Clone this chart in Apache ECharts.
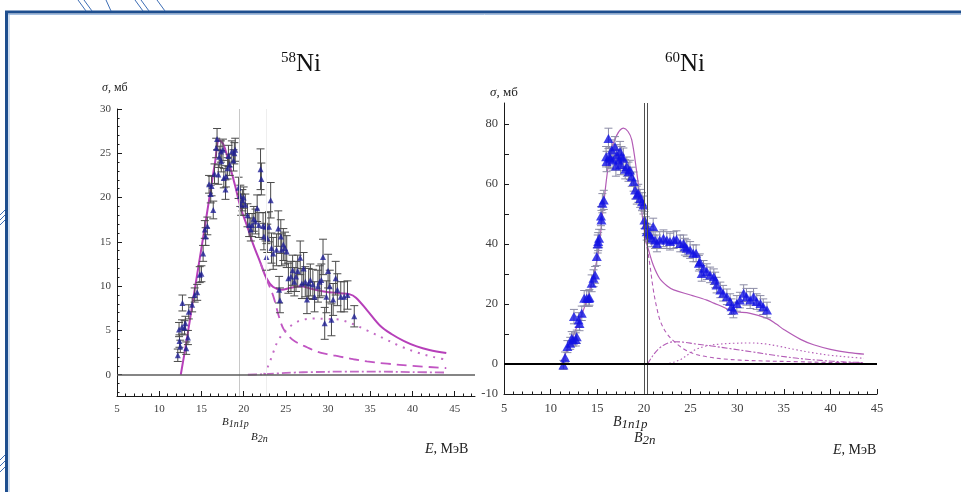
<!DOCTYPE html>
<html>
<head>
<meta charset="utf-8">
<script src="https://cdn.jsdelivr.net/npm/echarts@6/dist/echarts.min.js"></script>
<style>
  html, body { margin: 0; padding: 0; background: #ffffff; }
  #chart { width: 961px; height: 492px; }
</style>
</head>
<body>
<div id="chart"></div>
<script>
// ---- 58Ni: measured cross section [E (MeV), sigma (mb), error (mb)] ----
const ni58Points = [
  [12.2,2.2,0.7],[12.35,5.1,0.8],[12.4,3.8,0.7],[12.5,3.2,0.7],[12.7,5.4,0.8],[12.75,8.1,0.9],
  [13.0,5.3,0.8],[13.1,5.8,0.8],[13.2,3.0,0.7],[13.4,4.2,0.8],[13.5,7.1,0.8],[13.9,7.9,0.8],
  [14.2,9.0,0.8],[14.5,9.3,0.9],[14.8,11.3,0.9],[15.0,11.4,0.9],[15.2,13.7,0.9],[15.4,16.4,1.0],
  [15.5,15.6,1.0],[15.7,16.8,1.0],[15.9,21.5,1.0],[16.1,20.4,1.0],[16.2,21.3,1.1],[16.4,18.6,1.0],
  [16.55,22.7,1.1],[16.75,25.6,1.1],[16.85,26.6,1.2],[17.0,22.6,1.1],[17.1,24.6,1.2],[17.3,25.2,1.2],
  [17.35,24.1,1.2],[17.55,25.4,1.2],[17.65,22.2,1.1],[17.85,20.9,1.1],[17.9,22.4,1.2],[18.1,23.3,1.2],
  [18.2,24.7,1.2],[18.35,23.7,1.2],[18.6,25.2,1.2],[18.8,24.2,1.2],[18.9,25.0,1.2],[19.0,25.4,1.3],
  [19.4,21.1,1.2],[19.6,20.2,1.2],[19.7,19.2,1.2],[19.85,19.7,1.2],[20.0,20.0,1.2],[20.2,19.2,1.2],
  [20.45,18.0,1.3],[20.65,16.9,1.3],[20.85,16.4,1.3],[21.0,16.9,1.3],[21.2,17.6,1.4],[21.4,17.3,1.4],
  [21.6,18.8,1.5],[21.8,16.9,1.4],[22.0,23.2,2.3],[22.1,22.1,1.8],[22.3,16.8,1.5],[22.4,15.6,1.5],
  [22.6,16.7,1.6],[22.7,13.3,1.5],[22.8,15.4,1.6],[23.0,16.7,1.7],[23.2,19.7,2.0],[23.3,14.3,1.7],
  [23.5,13.7,1.8],[23.9,14.1,1.8],[24.1,16.5,2.0],[24.2,9.6,1.5],[24.3,8.4,1.4],[24.4,15.6,1.9],
  [24.5,14.1,1.8],[24.7,14.7,1.8],[24.9,14.3,1.8],[25.1,13.9,1.8],[25.3,10.9,1.7],[25.6,11.1,1.7],
  [25.8,11.8,1.7],[26.0,10.5,1.6],[26.2,11.1,1.7],[26.4,11.7,1.8],[26.7,13.2,1.9],[26.9,10.3,1.7],
  [27.1,12.0,1.8],[27.3,10.5,1.7],[27.5,8.5,1.6],[27.7,10.3,1.7],[27.9,10.7,1.8],[28.2,10.2,1.7],
  [28.4,8.8,1.7],[28.8,10.0,1.8],[29.0,10.5,1.8],[29.2,10.7,1.8],[29.4,13.3,2.0],[29.6,5.8,1.8],
  [29.8,8.8,1.8],[30.0,11.7,1.9],[30.2,10.0,1.8],[30.4,6.2,1.8],[30.6,8.5,1.8],[30.9,10.9,1.9],
  [31.1,9.6,1.8],[31.5,8.8,1.7],[31.9,8.8,1.7],[32.3,9.0,1.6],[33.1,6.6,1.2]
];
// 58Ni: calculated curves [E, sigma]
const ni58Total = [
  [12.55,0],[13.2,3.6],[14.0,8.4],[15.0,14.3],[16.0,20.3],[16.6,23.9],[17.1,26.5],[17.6,26.0],
  [18.3,23.8],[19.0,21.3],[19.6,19.0],[20.4,16.8],[21.1,14.8],[22.0,12.6],[22.7,10.9],[23.5,9.9],
  [24.5,9.6],[25.5,9.8],[26.7,10.0],[28.0,9.7],[29.5,9.4],[31.4,9.2],[32.5,9.1],[33.3,8.7],
  [34.6,7.3],[36.2,5.5],[37.5,4.6],[39.0,3.8],[40.5,3.2],[42.0,2.8],[44.0,2.45]
];
const ni58Main = [
  [22.0,12.6],[22.7,10.8],[23.5,8.9],[24.2,6.5],[24.7,5.2],[25.4,4.3],[26.1,3.75],[27.5,3.1],
  [28.7,2.6],[30.0,2.3],[31.4,2.05],[33.0,1.75],[34.6,1.5],[37.0,1.25],[40.0,1.0],[44.0,0.75]
];
const ni58TwoN = [
  [22.4,0],[23.0,1.2],[23.5,2.5],[24.1,3.9],[25.0,5.0],[26.0,5.8],[27.0,6.2],[28.3,6.35],
  [29.8,6.3],[31.4,6.2],[33.0,5.7],[34.6,5.0],[36.6,4.1],[38.6,3.2],[40.6,2.5],[42.5,2.0],[44.0,1.7]
];
const ni58NP = [
  [20.5,0],[22.0,0.05],[24.0,0.15],[26.0,0.25],[28.0,0.3],[32.0,0.35],[36.0,0.35],[40.0,0.3],[44.0,0.25]
];
const ni58Thresholds = [19.5, 22.7];

// ---- 60Ni: measured cross section [E (MeV), sigma (mb), error (mb)] ----
const ni60Points = [
  [11.37,-0.3,1.5],[11.55,2.2,1.8],[11.8,5.8,2.0],[12.1,6.9,2.0],[12.26,8.6,2.2],[12.4,8.0,2.0],
  [12.5,15.8,2.4],[12.7,8.2,2.2],[12.8,9.1,2.2],[13.0,14.7,2.4],[13.1,13.5,2.4],[13.34,16.9,2.4],
  [13.6,21.9,2.6],[13.87,21.9,2.6],[14.1,21.8,2.6],[14.16,22.2,2.6],[14.4,26.9,2.8],[14.6,28.6,2.8],
  [14.77,29.7,2.8],[14.95,35.8,3.0],[15.05,40.0,3.0],[15.1,40.8,3.0],[15.2,41.9,3.0],[15.4,49.3,3.2],
  [15.45,48.0,3.2],[15.55,53.6,3.2],[15.7,54.7,3.2],[15.95,69.1,3.4],[16.0,67.5,3.4],[16.2,75.2,3.4],
  [16.3,69.0,3.4],[16.4,68.6,3.4],[16.55,71.3,3.4],[16.7,68.0,3.4],[16.9,72.4,3.4],[17.0,66.0,3.4],
  [17.1,69.7,3.4],[17.3,68.0,3.4],[17.45,70.8,3.4],[17.5,66.5,3.4],[17.6,69.1,3.4],[17.8,68.6,3.4],
  [18.0,64.9,3.2],[18.17,65.8,3.2],[18.35,64.1,3.2],[18.5,64.7,3.2],[18.7,62.4,3.2],[18.9,60.8,3.2],
  [19.06,58.0,3.0],[19.24,56.3,3.0],[19.4,56.9,3.0],[19.6,55.2,3.0],[19.8,54.1,3.0],[19.95,53.0,3.0],
  [20.06,48.0,2.8],[20.2,46.3,2.8],[20.3,44.1,2.8],[20.5,43.6,2.8],[20.67,43.0,2.8],[20.85,41.9,2.8],
  [21.0,45.8,2.8],[21.2,41.3,2.8],[21.4,40.2,2.8],[21.7,41.3,2.8],[22.1,41.9,2.8],[22.46,41.3,2.8],
  [22.8,40.8,2.8],[23.2,41.3,2.8],[23.5,41.6,2.8],[23.9,40.2,2.8],[24.25,40.2,2.8],[24.4,39.1,2.8],
  [24.6,38.6,2.8],[24.96,38.0,2.8],[25.3,36.9,2.8],[25.6,36.9,2.8],[25.9,33.6,2.6],[26.0,34.1,2.6],
  [26.2,30.2,2.6],[26.4,31.9,2.6],[26.75,30.8,2.6],[27.1,29.7,2.6],[27.5,29.1,2.6],[27.65,28.0,2.6],
  [27.8,26.3,2.6],[28.2,24.7,2.6],[28.5,23.6,2.6],[28.9,22.4,2.6],[29.25,20.8,2.6],[29.4,19.1,2.6],
  [29.6,18.0,2.6],[29.97,20.2,2.6],[30.3,21.3,2.6],[30.7,23.6,2.8],[31.0,22.4,2.8],[31.4,21.3,2.8],
  [31.76,22.4,2.8],[32.1,20.8,2.6],[32.5,20.2,2.6],[32.8,19.1,2.6],[33.2,18.0,2.6]
];
// 60Ni: calculated curves [E, sigma]
const ni60Total = [
  [11.2,0],[11.6,3.5],[12.0,6.5],[12.5,10.0],[13.0,13.8],[13.5,17.8],[14.0,22.5],[14.5,28.5],
  [15.1,36.9],[15.65,52.4],[16.4,70.2],[17.1,76.3],[17.8,78.6],[18.3,77.5],[18.7,74.7],[19.2,64.7],
  [19.8,50.2],[20.2,41.3],[20.5,38.0],[21.0,33.0],[21.7,28.5],[22.5,26.0],[23.2,24.7],[25.0,23.0],
  [26.75,21.3],[27.5,20.3],[28.5,19.0],[29.6,17.5],[31.4,16.9],[33.2,15.2],[34.2,13.3],[35.0,11.5],
  [36.8,8.2],[38.2,6.4],[40.0,4.9],[42.0,3.8],[43.6,3.3]
];
const ni60Main = [
  [20.2,41.3],[20.6,34.0],[21.0,25.0],[21.4,18.5],[21.8,14.0],[22.5,10.0],[23.5,6.8],[24.5,4.6],
  [25.5,3.3],[26.75,2.4],[28.5,1.7],[30.3,1.3],[33.0,1.0],[36.0,0.8],[40.0,0.5],[43.6,0.4]
];
const ni60NP = [
  [20.4,0],[20.9,2.5],[21.5,4.8],[22.3,6.6],[23.2,7.4],[24.2,7.3],[25.5,6.7],[27.5,5.9],
  [29.5,5.0],[31.5,4.1],[34.0,2.9],[36.5,1.9],[39.0,1.2],[41.5,0.7],[43.6,0.5]
];
const ni60TwoN = [
  [22.3,0],[23.2,0.6],[24.0,1.6],[24.8,3.3],[25.6,4.9],[26.7,6.0],[28.0,6.6],[29.6,6.9],
  [31.5,7.0],[33.0,6.7],[34.5,5.9],[36.4,4.7],[38.2,3.7],[40.0,2.9],[42.0,2.3],[43.6,1.9]
];
const ni60Thresholds = [20.0, 20.35];

// ---- axis ticks ----
const energyMajor = [5, 10, 15, 20, 25, 30, 35, 40, 45];
const energyMinor = [6,7,8,9,11,12,13,14,16,17,18,19,21,22,23,24,26,27,28,29,31,32,33,34,36,37,38,39,41,42,43,44,46,47];
const sigma58Major = [0, 5, 10, 15, 20, 25, 30];
const sigma58Minor = [-2,-1,1,2,3,4,6,7,8,9,11,12,13,14,16,17,18,19,21,22,23,24,26,27,28,29];
const sigma60Ticks = [-10, 0, 10, 20, 30, 40, 50, 60, 70, 80];
const sigma60Labels = [-10, 0, 20, 40, 60, 80];

const SERIF = '"Liberation Serif", "DejaVu Serif", serif';
const CURVE = '#b63fb9';
const CURVE60 = '#b35cb6';

function errorBars(points, capHalf, color, xi, yi) {
  return {
    type: 'custom', xAxisIndex: xi, yAxisIndex: yi, z: 3, silent: true,
    data: points.map(p => [p[0], p[1] - p[2], p[1] + p[2]]),
    encode: { x: 0, y: [1, 2] },
    renderItem: (params, api) => {
      const lo = api.coord([api.value(0), api.value(1)]);
      const hi = api.coord([api.value(0), api.value(2)]);
      const st = { stroke: color, lineWidth: 1 };
      return { type: 'group', children: [
        { type: 'line', shape: { x1: lo[0], y1: lo[1], x2: hi[0], y2: hi[1] }, style: st },
        { type: 'line', shape: { x1: hi[0] - capHalf, y1: hi[1], x2: hi[0] + capHalf, y2: hi[1] }, style: st },
        { type: 'line', shape: { x1: lo[0] - capHalf, y1: lo[1], x2: lo[0] + capHalf, y2: lo[1] }, style: st }
      ]};
    }
  };
}

function curve(data, xi, yi, color, width, type, extra) {
  return Object.assign({
    type: 'line', xAxisIndex: xi, yAxisIndex: yi, data: data, smooth: 0.35,
    symbol: 'none', silent: true, z: 2,
    lineStyle: { color: color, width: width, type: type }
  }, extra || {});
}

function mainAxis(gridIndex, min, max, ticks, labels, fontSize, tickLen, vertical) {
  return {
    type: 'value', gridIndex: gridIndex, min: min, max: max,
    position: vertical ? 'left' : 'bottom',
    axisLine: { show: true, onZero: false, lineStyle: { color: '#1a1a1a', width: 1 } },
    axisTick: { show: true, inside: true, length: tickLen, customValues: ticks, lineStyle: { color: '#1a1a1a' } },
    axisLabel: { show: true, customValues: labels, fontFamily: SERIF, fontSize: fontSize, color: '#404040', margin: vertical ? 6 : 8 },
    splitLine: { show: false }
  };
}
function minorAxis(gridIndex, min, max, ticks, vertical) {
  return {
    type: 'value', gridIndex: gridIndex, min: min, max: max,
    position: vertical ? 'left' : 'bottom',
    axisLine: { show: false, onZero: false },
    axisTick: { show: true, inside: true, length: 2.5, customValues: ticks, lineStyle: { color: '#1a1a1a' } },
    axisLabel: { show: false },
    splitLine: { show: false }
  };
}

const chart = echarts.init(document.getElementById('chart'), null, { renderer: 'canvas' });

const hatch = { stroke: '#3d6db4', lineWidth: 1 };
const decorations = [
  { type: 'line', shape: { x1: 5, y1: 12, x2: 961, y2: 12 }, style: { stroke: '#1f4f8f', lineWidth: 3 } },
  { type: 'line', shape: { x1: 8, y1: 14.5, x2: 961, y2: 14.5 }, style: { stroke: '#a5c0e2', lineWidth: 1 } },
  { type: 'line', shape: { x1: 6.5, y1: 11, x2: 6.5, y2: 492 }, style: { stroke: '#1f4f8f', lineWidth: 3 } },
  { type: 'line', shape: { x1: 9, y1: 14, x2: 9, y2: 492 }, style: { stroke: '#a5c0e2', lineWidth: 1 } },
  { type: 'line', shape: { x1: 78, y1: 0, x2: 86, y2: 11 }, style: hatch },
  { type: 'line', shape: { x1: 84, y1: 0, x2: 92, y2: 11 }, style: hatch },
  { type: 'line', shape: { x1: 106, y1: 0, x2: 111, y2: 11 }, style: hatch },
  { type: 'line', shape: { x1: 135, y1: 0, x2: 143, y2: 11 }, style: hatch },
  { type: 'line', shape: { x1: 141, y1: 0, x2: 149, y2: 11 }, style: hatch },
  { type: 'line', shape: { x1: 157, y1: 0, x2: 165, y2: 11 }, style: hatch },
  { type: 'line', shape: { x1: 0, y1: 215, x2: 5, y2: 210 }, style: hatch },
  { type: 'line', shape: { x1: 0, y1: 220, x2: 5, y2: 215 }, style: hatch },
  { type: 'line', shape: { x1: 0, y1: 225, x2: 5, y2: 220 }, style: hatch },
  { type: 'line', shape: { x1: 0, y1: 460, x2: 5, y2: 455 }, style: hatch },
  { type: 'line', shape: { x1: 0, y1: 466, x2: 5, y2: 461 }, style: hatch },
  { type: 'line', shape: { x1: 0, y1: 472, x2: 5, y2: 467 }, style: hatch }
];

function richText(x, y, text, rich) {
  return { type: 'text', x: x, y: y, z: 10, style: { text: text, rich: rich, fill: '#222' } };
}
const axisNameRich = (size) => ({
  i: { fontFamily: SERIF, fontStyle: 'italic', fontSize: size, fill: '#222' },
  r: { fontFamily: SERIF, fontSize: size, fill: '#222' }
});
const bRich = (size) => ({
  i: { fontFamily: SERIF, fontStyle: 'italic', fontSize: size, fill: '#222' },
  s: { fontFamily: SERIF, fontStyle: 'italic', fontSize: size - 1, fill: '#222', padding: [4, 0, 0, 0] }
});
const texts = [
  richText(102, 82, '{i|σ}{r|, мб}', axisNameRich(12)),
  richText(490, 86, '{i|σ}{r|, мб}', axisNameRich(13)),
  richText(425, 442, '{i|E}{r|, МэВ}', axisNameRich(14)),
  richText(833, 443, '{i|E}{r|, МэВ}', axisNameRich(14)),
  richText(222, 415, '{i|B}{s|1n1p}', bRich(11)),
  richText(251, 430, '{i|B}{s|2n}', bRich(11)),
  richText(613, 414, '{i|B}{s|1n1p}', bRich(14)),
  richText(634, 430, '{i|B}{s|2n}', bRich(14))
];

const titleRich = {
  s: { fontFamily: SERIF, fontSize: 15, fontWeight: 'normal', color: '#111', verticalAlign: 'top', lineHeight: 26 },
  n: { fontFamily: SERIF, fontSize: 25, fontWeight: 'normal', color: '#111', verticalAlign: 'bottom', lineHeight: 26 }
};

const option = {
  animation: false,
  backgroundColor: '#ffffff',
  title: [
    { text: '{s|58}{n|Ni}', left: 276, top: 46, textStyle: { fontWeight: 'normal', rich: titleRich } },
    { text: '{s|60}{n|Ni}', left: 660, top: 46, textStyle: { fontWeight: 'normal', rich: titleRich } }
  ],
  grid: [
    { left: 117, top: 109, width: 358, height: 287, containLabel: false },
    { left: 504, top: 103, width: 373, height: 291, containLabel: false }
  ],
  xAxis: [
    mainAxis(0, 5, 47.4, energyMajor, energyMajor, 11, 5, false),
    minorAxis(0, 5, 47.4, energyMinor, false),
    mainAxis(1, 5, 45, energyMajor, energyMajor, 12.5, 5, false),
    minorAxis(1, 5, 45, energyMinor.filter(v => v < 45), false)
  ],
  yAxis: [
    mainAxis(0, -2.4, 30, sigma58Major, sigma58Major, 11, 5, true),
    minorAxis(0, -2.4, 30, sigma58Minor, true),
    mainAxis(1, -10, 87, sigma60Ticks, sigma60Labels, 12.5, 5, true)
  ],
  graphic: decorations.concat(texts),
  series: [
    // 58Ni
    curve(ni58Total, 0, 0, CURVE, 2, 'solid', {
      markLine: {
        silent: true, symbol: 'none', label: { show: false }, animation: false,
        data: [
          { xAxis: ni58Thresholds[0], lineStyle: { color: '#c8c8c8', width: 1, type: 'solid' } },
          { xAxis: ni58Thresholds[1], lineStyle: { color: '#eeeeee', width: 1, type: 'solid' } },
          { yAxis: 0, lineStyle: { color: '#5c5c5c', width: 1.5, type: 'solid' } }
        ]
      }
    }),
    curve(ni58Main, 0, 0, '#c155c3', 1.8, [10, 6]),
    curve(ni58TwoN, 0, 0, '#c46bc6', 2, [2, 6]),
    curve(ni58NP, 0, 0, '#c46bc6', 1.8, [9, 3, 2, 3]),
    errorBars(ni58Points, 4, '#4a4a4a', 0, 0),
    {
      type: 'scatter', xAxisIndex: 0, yAxisIndex: 0, z: 4, silent: true,
      symbol: 'triangle', symbolSize: [6, 6],
      itemStyle: { color: '#1f1f96' },
      data: ni58Points.map(p => [p[0], p[1]])
    },
    // 60Ni
    curve(ni60Total, 2, 2, CURVE60, 1.2, 'solid', {
      markLine: {
        silent: true, symbol: 'none', label: { show: false }, animation: false,
        data: [
          { xAxis: ni60Thresholds[0], lineStyle: { color: '#505050', width: 1, type: 'solid' } },
          { xAxis: ni60Thresholds[1], lineStyle: { color: '#505050', width: 1, type: 'solid' } },
          { yAxis: 0, lineStyle: { color: '#000000', width: 2, type: 'solid' } }
        ]
      }
    }),
    curve(ni60Main, 2, 2, CURVE60, 1.1, [4, 3]),
    curve(ni60NP, 2, 2, CURVE60, 1.1, [6, 2, 2, 2]),
    curve(ni60TwoN, 2, 2, CURVE60, 1.1, [1.5, 2.5]),
    errorBars(ni60Points, 4, '#8c8ca6', 2, 2),
    {
      type: 'scatter', xAxisIndex: 2, yAxisIndex: 2, z: 4, silent: true,
      symbol: 'triangle', symbolSize: [10, 9],
      itemStyle: { color: '#1212e4' },
      data: ni60Points.map(p => [p[0], p[1]])
    }
  ]
};

chart.setOption(option);
</script>
</body>
</html>
